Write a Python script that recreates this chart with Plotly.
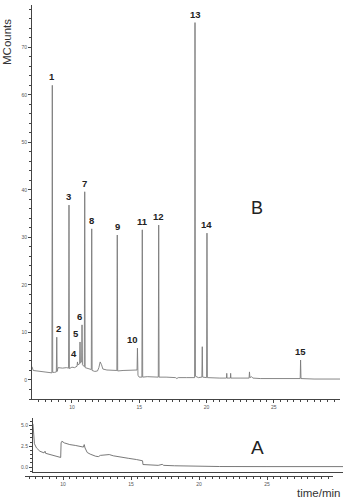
import plotly.graph_objects as go

# ---------------- data ----------------
# Chromatogram B (MCounts vs time/min)
chrom_B_time = [
    7.03, 7.12, 7.40, 7.80, 8.20, 8.51,
    8.54, 8.57, 8.70, 8.84,
    8.87, 8.90, 8.97, 9.30, 9.60, 9.75,
    9.78, 9.81, 10.00, 10.20, 10.38,
    10.41, 10.44, 10.57,
    10.60, 10.63, 10.72,
    10.75, 10.78, 10.92,
    10.95, 10.98, 11.20, 11.44,
    11.47, 11.50, 11.70, 11.90, 12.00, 12.10, 12.20, 12.30, 12.60, 13.00, 13.34,
    13.37, 13.40, 13.80, 14.30, 14.84,
    14.87, 14.91, 15.00, 15.20,
    15.23, 15.26, 15.60, 16.00, 16.42,
    16.45, 16.48, 17.00, 17.70, 17.80, 17.90, 18.50, 19.12,
    19.15, 19.18, 19.40, 19.66,
    19.69, 19.72, 20.01,
    20.04, 20.07, 20.50, 21.00, 21.49,
    21.51, 21.53, 21.78, 21.80, 21.82,
    22.50, 23.17, 23.20, 23.23, 23.35, 23.45,
    24.00, 25.00, 26.00, 26.97,
    27.00, 27.03, 28.00, 29.00, 29.93,
]
chrom_B_signal = [
    2.8, 2.0, 1.9, 1.8, 1.6, 1.5,
    62.0, 1.6, 1.6, 1.7,
    9.0, 1.8, 2.6, 2.5, 2.6, 2.5,
    36.8, 2.4, 2.7, 2.6, 2.9,
    3.8, 3.2, 3.4,
    8.0, 3.6, 3.8,
    11.6, 3.2, 2.8,
    39.6, 2.6, 2.4, 2.2,
    31.8, 2.0, 1.8, 1.9, 2.6, 3.8, 3.2, 2.3, 2.1, 2.0, 2.0,
    30.5, 1.9, 2.0, 2.0, 2.1,
    6.7, 1.0, 0.6, 0.6,
    31.6, 0.6, 0.7, 0.6, 0.6,
    32.6, 0.6, 0.6, 0.5, 0.3, 0.5, 0.5, 0.5,
    75.2, 0.8, 0.5, 0.6,
    7.0, 0.6, 0.5,
    30.9, 0.5, 0.4, 0.4, 0.4,
    1.4, 0.4, 0.4, 1.4, 0.4,
    0.4, 0.4, 1.7, 0.5, 0.7, 0.4,
    0.3, 0.3, 0.3, 0.3,
    4.2, 0.3, 0.2, 0.2, 0.2,
]

# Peak labels of chromatogram B
peak_labels = ["1", "2", "3", "4", "5", "6", "7", "8", "9", "10", "11", "12", "13", "14", "15"]
peak_time = [8.54, 8.87, 9.78, 10.41, 10.60, 10.75, 10.95, 11.47, 13.37, 14.87, 15.23, 16.45, 19.15, 20.04, 27.00]
peak_height = [62.0, 9.0, 36.8, 3.8, 8.0, 11.6, 39.6, 31.8, 30.5, 6.7, 31.6, 32.6, 75.2, 30.9, 4.2]

# Chromatogram A
chrom_A_time = [
    7.79, 7.83, 7.90, 8.05, 8.30, 8.60, 8.68, 8.72, 9.00, 9.40, 9.83,
    9.86, 9.92, 10.10, 10.50, 10.90, 11.30, 11.50, 11.56, 11.62,
    11.78, 12.00, 12.40, 12.60, 12.75, 13.00, 13.40, 13.70, 14.20, 14.80, 15.40, 15.85,
    15.88, 16.40, 17.00, 17.30, 17.40, 18.20, 19.30, 21.50, 25.00, 30.59,
]
chrom_A_signal = [
    5.2, 3.6, 2.8, 2.3, 1.9, 1.7, 1.9, 1.65, 1.5, 1.35, 1.15,
    2.9, 3.1, 2.9, 2.7, 2.6, 2.45, 2.4, 2.7, 2.3,
    1.75, 1.55, 1.3, 1.25, 1.4, 1.45, 1.5, 1.35, 1.25, 1.05, 0.9, 0.75,
    0.3, 0.25, 0.2, 0.32, 0.2, 0.15, 0.1, 0.06, 0.05, 0.05,
]

x_tick_vals = [10, 15, 20, 25]
x_tick_text = ["10", "15", "20", "25"]
yB_tick_vals = [0, 10, 20, 30, 40, 50, 60, 70]
yB_tick_text = ["0", "10", "20", "30", "40", "50", "60", "70"]
yA_tick_vals = [0, 2.5, 5.0]
yA_tick_text = ["0.0", "2.5", "5.0"]

# ---------------- figure ----------------
W, H = 343, 498
FONT = "Liberation Sans, Arial, sans-serif"
AX = "#444444"
TICKFONT = dict(family=FONT, size=5, color="#555555")


def px_x(p):
    return p / W


def px_y(p):
    return (H - p) / H


fig = go.Figure()
fig.add_trace(go.Scatter(x=chrom_B_time, y=chrom_B_signal, mode="lines",
                         line=dict(color="#7a7a7a", width=0.9),
                         xaxis="x", yaxis="y", hoverinfo="skip"))
fig.add_trace(go.Scatter(x=chrom_A_time, y=chrom_A_signal, mode="lines",
                         line=dict(color="#6a6a6a", width=0.9),
                         xaxis="x2", yaxis="y2", hoverinfo="skip"))
# invisible trace to hold the separate time axis under panel A
fig.add_trace(go.Scatter(x=[10], y=[0], mode="markers", marker=dict(opacity=0),
                         xaxis="x3", yaxis="y3", hoverinfo="skip"))

common_tick = dict(ticks="outside", ticklen=3, tickwidth=0.8, tickcolor=AX,
                   showline=True, linecolor=AX, linewidth=1, showgrid=False,
                   zeroline=False, tickfont=TICKFONT)

fig.update_layout(
    width=W, height=H,
    margin=dict(l=0, r=0, t=0, b=0),
    paper_bgcolor="white", plot_bgcolor="white",
    showlegend=False,
    xaxis=dict(domain=[px_x(32), px_x(340)], range=[7.03, 29.93], anchor="y",
               tickvals=x_tick_vals, ticktext=x_tick_text,
               minor=dict(dtick=0.5, tick0=0, ticks="outside", ticklen=2, tickcolor=AX),
               **common_tick),
    yaxis=dict(domain=[px_y(399), px_y(5)], range=[-4.0, 78.9], anchor="x",
               tickvals=yB_tick_vals, ticktext=yB_tick_text,
               minor=dict(dtick=2, tick0=0, ticks="outside", ticklen=2, tickcolor=AX),
               **common_tick),
    xaxis2=dict(domain=[px_x(33), 1.0], range=[7.794, 30.59], anchor="y2",
                showline=True, linecolor=AX, linewidth=1, ticks="",
                showticklabels=False, showgrid=False, zeroline=False),
    yaxis2=dict(domain=[px_y(472), px_y(418)], range=[-0.60, 5.9], anchor="x2",
                tickvals=yA_tick_vals, ticktext=yA_tick_text,
                minor=dict(dtick=0.5, tick0=0, ticks="outside", ticklen=2, tickcolor=AX),
                **common_tick),
    xaxis3=dict(domain=[px_x(25), px_x(333)], range=[7.206, 29.85], anchor="y3",
                tickvals=x_tick_vals, ticktext=x_tick_text,
                minor=dict(dtick=0.5, tick0=0, ticks="outside", ticklen=2, tickcolor=AX),
                **common_tick),
    yaxis3=dict(domain=[px_y(476), px_y(475)], range=[0, 1], anchor="x3",
                visible=False),
)

# peak number labels (offsets are purely layout)
label_xshift = {"2": 1.5, "4": -3, "5": -4, "6": -3, "10": -5}
for lab, t, h in zip(peak_labels, peak_time, peak_height):
    fig.add_annotation(x=t, y=h, xref="x", yref="y", text="<b>%s</b>" % lab,
                       showarrow=False, yanchor="bottom", xanchor="center",
                       yshift=1, xshift=label_xshift.get(lab, 0),
                       font=dict(family=FONT, size=9.5, color="#222222"))

fig.add_annotation(x=px_x(7), y=px_y(42), xref="paper", yref="paper", text="MCounts",
                   textangle=-90, showarrow=False, xanchor="center", yanchor="middle",
                   font=dict(family=FONT, size=11.5, color="#333333"))
fig.add_annotation(x=px_x(257), y=px_y(208), xref="paper", yref="paper", text="B",
                   showarrow=False, xanchor="center", yanchor="middle",
                   font=dict(family=FONT, size=18, color="#222222"))
fig.add_annotation(x=px_x(257), y=px_y(447), xref="paper", yref="paper", text="A",
                   showarrow=False, xanchor="center", yanchor="middle",
                   font=dict(family=FONT, size=19, color="#222222"))
fig.add_annotation(x=px_x(318), y=px_y(493), xref="paper", yref="paper", text="time/min",
                   showarrow=False, xanchor="center", yanchor="middle",
                   font=dict(family=FONT, size=11.5, color="#333333"))

fig.write_html("out.html")
